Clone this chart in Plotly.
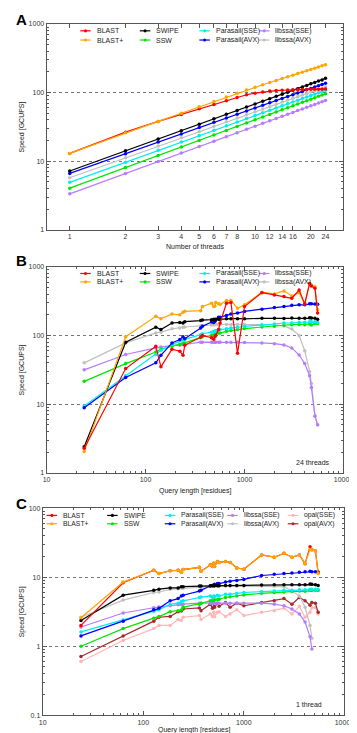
import plotly.graph_objects as go
import math

W, H = 357, 733

# ---------------- DATA ----------------
threads = list(range(1, 25))
thread_ticks = [1, 2, 3, 4, 5, 6, 7, 8, 10, 12, 14, 16, 20, 24]

a_blast = [13, 26.5, 38, 48, 58, 67, 76, 85, 93, 98, 102, 105, 107, 108, 109, 110, 110, 111, 111, 112, 112, 112, 112, 113]
a_blastp = [13, 26, 38, 50, 62, 74, 86, 98, 109, 119, 130, 140, 150, 160, 170, 179, 189, 198, 207, 217, 226, 236, 245, 255]
a_swipe = [7.2, 14.2, 21.1, 27.9, 34.7, 41.5, 48.2, 54.9, 61.6, 68.3, 74.9, 81.5, 88.1, 94.7, 101, 108, 114, 121, 127, 134, 140, 147, 153, 161]
a_ssw = [4.05, 8.1, 12.1, 16.1, 20.1, 24.1, 28.1, 32.1, 36.1, 40.1, 44, 48, 52, 56, 60, 64, 68, 72, 76, 80, 84, 88, 92, 96]
a_par_sse = [4.93, 9.7, 14.4, 19.0, 23.6, 28.2, 32.8, 37.3, 41.8, 46.3, 50.8, 55.2, 59.7, 64.1, 68.5, 72.9, 77.3, 81.7, 86.0, 90.4, 94.7, 99.0, 103, 108]
a_par_avx = [6.65, 12.9, 19.0, 25.0, 30.9, 36.8, 42.6, 48.4, 54.1, 59.8, 65.4, 71.0, 76.6, 82.2, 87.7, 93.2, 98.7, 104, 110, 115, 120, 126, 131, 137]
a_lib_sse = [3.35, 6.65, 9.9, 13.2, 16.4, 19.6, 22.8, 26.0, 29.2, 32.4, 35.6, 38.8, 42.0, 45.1, 48.3, 51.4, 54.6, 57.7, 60.9, 64.0, 67.1, 70.3, 73.4, 76.5]
a_lib_avx = [5.75, 11.2, 16.6, 21.9, 27.1, 32.3, 37.5, 42.6, 47.7, 52.7, 57.8, 62.8, 67.7, 72.7, 77.6, 82.5, 87.4, 92.3, 97.1, 102, 107, 111, 116, 121]

qlen = [24, 63, 127, 143, 185, 222, 239, 249, 361, 375, 464, 488, 503, 511, 546, 567,
        657, 729, 850, 1000, 1500, 2005, 2504, 3005, 3564, 4061, 4548, 4743, 5147, 5478]

b_blast = [2.28, 33, 70, 35, 63, 59, 51.5, 72, 95, 100, 93, 88, 96, 100, 122, 152,
           296, 302, 55, 265, 421, 390, 369, 349, 460, 289, 574, 525, 486, 212]
b_blastp = [2.04, 96, 190, 176, 205, 200, 219, 225, 230, 265, 296, 265, 270, 302, 290, 285,
            323, 323, 250, 280, 427, 403, 445, 377, 421, 289, 574, 543, 515, 237]
b_swipe = [2.4, 80, 132, 122, 152, 155, 152, 159, 165, 168, 170, 172, 170, 172, 172, 173,
           175, 176, 176, 175, 178, 178, 177, 180, 178, 178, 181, 180, 178, 172]
b_ssw = [21.5, 39, 57.5, 63, 70, 74, 77, 78, 93, 96, 100, 102, 103, 106, 109, 109,
         115, 118, 122, 126, 133, 136, 141, 144, 145, 144, 147, 142, 149, 149]
b_par_sse = [9.4, 26, 53, 61, 74, 83, 86, 88, 103, 106, 112, 114, 115, 118, 120, 122,
             125, 129, 132, 136, 141, 147, 152, 152, 156, 156, 158, 159, 158, 156]
b_par_avx = [8.9, 24.5, 40, 51.5, 78, 87.5, 96, 90, 129, 136, 157, 155, 161, 170, 185, 185,
             196, 205, 212, 224, 242, 256, 265, 277, 280, 280, 289, 289, 287, 286]
b_lib_sse = [31.6, 53, 66, 68, 72, 72, 74, 74, 80, 80, 80, 80, 80, 80, 80, 80,
             80, 80, 80, 79, 78, 76, 73, 66, 52, 39, 26, 17.5, 6.7, 5.0]
b_lib_avx = [40, 78, 109, 112, 125, 129, 132, 133, 138, 140, 142, 144, 145, 145, 145, 145,
             145, 145, 145, 145, 145, 143, 138, 124, 100, 60, 30, 20, 6.8, 5.0]

c_blast = [2.0, 8.3, 12.6, 11.3, 12.4, 12.6, 11.8, 12.9, 13.9, 12.2, 15.1, 14.3, 16, 14.3, 16.9, 16.4,
           16.9, 16.4, 13.6, 13.1, 21, 19.5, 22.2, 19.5, 21, 15.7, 27.6, 25, 24, 11.5]
c_blastp = [2.58, 8.5, 12.6, 11.3, 12.4, 12.6, 11.8, 12.9, 13.9, 12.2, 15.1, 14.3, 16, 14.3, 16.9, 16.4,
            16.9, 16.4, 13.6, 13.1, 21, 19.5, 22.2, 19.5, 21, 15.7, 25.3, 25, 24, 11.3]
c_swipe = [2.36, 5.5, 6.45, 6.7, 7.0, 7.0, 7.3, 7.3, 7.45, 7.45, 7.5, 7.5, 7.5, 7.55, 7.55, 7.55,
           7.6, 7.6, 7.6, 7.6, 7.7, 7.75, 7.75, 7.75, 7.75, 7.75, 7.95, 7.9, 7.8, 7.6]
c_ssw = [1.0, 1.8, 2.55, 2.69, 3.17, 3.28, 3.35, 3.66, 4.07, 4.2, 4.55, 4.55, 4.6, 4.7, 4.75, 4.8,
         5.08, 5.2, 5.36, 5.54, 5.85, 6.0, 6.1, 6.25, 6.3, 6.25, 6.45, 6.4, 6.45, 6.4]
c_par_sse = [1.61, 2.39, 3.2, 3.39, 4.04, 4.2, 4.46, 4.55, 5.08, 5.15, 5.36, 5.1, 5.36, 5.25, 5.48, 5.36,
             5.66, 5.66, 5.85, 6.0, 6.18, 6.3, 6.45, 6.5, 6.6, 6.6, 6.7, 6.7, 6.7, 6.65]
c_par_avx = [1.41, 2.31, 3.39, 3.54, 4.55, 4.9, 5.36, 5.48, 6.3, 6.5, 7.45, 7.6, 7.8, 7.9, 8.1, 8.1,
             8.5, 8.77, 9.0, 9.3, 10.6, 11.0, 11.3, 11.5, 11.8, 12.0, 12.2, 12.0, 12.0, 11.9]
c_lib_sse = [1.9, 3.03, 3.61, 3.7, 3.86, 4.0, 4.04, 4.07, 4.2, 4.2, 4.2, 4.2, 4.2, 4.2, 4.2, 4.2,
             4.2, 4.2, 4.2, 4.2, 4.2, 4.07, 3.86, 3.46, 2.94, 2.24, 1.37, 0.91, None, None]
c_lib_avx = [2.63, 4.66, 6.0, 6.1, 6.67, 6.8, 7.0, 7.0, 7.3, 7.35, 7.4, 7.4, 7.45, 7.45, 7.45, 7.45,
             7.45, 7.45, 7.45, 7.45, 7.45, 7.45, 7.3, 6.3, 5.36, 3.66, 2.0, 1.3, None, None]
c_opal_sse = [0.6, 1.21, 1.8, 2.0, 2.0, 2.44, 2.36, 2.63, 2.78, 2.44, 2.94, 2.7, 3.1, 2.68, 3.1, 3.15,
              2.7, 2.94, 3.39, 2.78, 3.1, 3.28, 3.54, 2.94, 3.77, 2.63, 3.1, 3.6, 3.65, 2.94]
c_opal_avx = [0.71, 1.41, 2.31, 2.63, 2.7, 3.17, 3.25, 3.46, 3.58, 3.28, 4.07, 3.54, 4.2, 3.66, 4.2, 3.8,
              4.3, 3.66, 4.2, 3.86, 4.3, 4.55, 4.9, 4.07, 5.08, 4.55, 3.94, 4.3, 4.2, 3.1]

# ---------------- STYLE ----------------
COL = {
    "BLAST": "#ff0000", "BLAST+": "#ffa500", "SWIPE": "#000000", "SSW": "#00e600",
    "Parasail(SSE)": "#00eeee", "Parasail(AVX)": "#0000ff", "libssa(SSE)": "#b57cff",
    "libssa(AVX)": "#c0c0c0", "opal(SSE)": "#ffb6b6", "opal(AVX)": "#a52a2a",
}
FONT = "Liberation Sans, Arial, sans-serif"

fig = go.Figure()

# plot areas in pixels: (left, right, top, bottom)
dom = {
    "A": (36, 345, 12, 220),
    "B": (36, 345, 257.3, 465.3),
    "C": (32, 346, 501, 710),
}
def px(x):
    return x / W
def py(y):
    return 1 - y / H

axes = {"A": ("x", "y", ""), "B": ("x2", "y2", "2"), "C": ("x3", "y3", "3")}

def add(panel, xs, ys, name):
    xa, ya, _ = axes[panel]
    fig.add_trace(go.Scatter(
        x=xs, y=ys, mode="lines+markers", name=name, showlegend=False,
        line=dict(color=COL[name], width=1.2),
        marker=dict(color=COL[name], size=3.5, symbol="circle"),
        xaxis=xa, yaxis=ya, connectgaps=False))

orderA = [("libssa(AVX)", a_lib_avx), ("libssa(SSE)", a_lib_sse), ("SSW", a_ssw),
          ("Parasail(SSE)", a_par_sse), ("Parasail(AVX)", a_par_avx), ("SWIPE", a_swipe),
          ("BLAST", a_blast), ("BLAST+", a_blastp)]
for n, v in orderA:
    add("A", threads, v, n)

orderB = [("libssa(AVX)", b_lib_avx), ("libssa(SSE)", b_lib_sse), ("SSW", b_ssw),
          ("Parasail(SSE)", b_par_sse), ("Parasail(AVX)", b_par_avx), ("SWIPE", b_swipe),
          ("BLAST+", b_blastp), ("BLAST", b_blast)]
for n, v in orderB:
    add("B", qlen, v, n)

orderC = [("opal(SSE)", c_opal_sse), ("opal(AVX)", c_opal_avx), ("libssa(AVX)", c_lib_avx),
          ("libssa(SSE)", c_lib_sse), ("SSW", c_ssw), ("Parasail(SSE)", c_par_sse),
          ("Parasail(AVX)", c_par_avx), ("SWIPE", c_swipe), ("BLAST", c_blast), ("BLAST+", c_blastp)]
for n, v in orderC:
    add("C", qlen, v, n)

tickfont = dict(family=FONT, size=7, color="#333333")
common = dict(showline=True, linecolor="#555555", linewidth=1, mirror="ticks",
              ticks="inside", tickcolor="#555555", ticklen=4, tickwidth=0.8,
              tickfont=tickfont, zeroline=False)

minor_y = [m * 10 ** e for e in range(-1, 3) for m in range(2, 10)]
minor_x = [m * 10 ** e for e in range(1, 4) for m in range(2, 10)]

lay = {}
for p, (l, r, t, b) in dom.items():
    xa, ya, s = axes[p]
    lay["xaxis" + s] = dict(domain=[px(l), px(r)], anchor=ya, type="log", showgrid=False, **common)
    lay["yaxis" + s] = dict(domain=[py(b), py(t)], anchor=xa, type="log",
                            showgrid=True, gridcolor="#777777", griddash="dot", gridwidth=0.8,
                            minor=dict(tickvals=minor_y, ticks="inside", ticklen=2,
                                       tickcolor="#555555", showgrid=False),
                            **common)

lay["xaxis"].update(range=[math.log10(0.75), math.log10(30)], tickvals=thread_ticks,
                    ticktext=[str(t) for t in thread_ticks])
lay["yaxis"].update(range=[0, 3], tickvals=[1, 10, 100, 1000], ticktext=["1", "10", "100", "1000"])
lay["xaxis2"].update(range=[1, 4], tickvals=[10, 100, 1000, 10000],
                     ticktext=["10", "100", "1000", "10000"],
                     minor=dict(tickvals=minor_x, ticks="inside", ticklen=2, tickcolor="#555555", showgrid=False))
lay["yaxis2"].update(range=[0, 3], tickvals=[1, 10, 100, 1000], ticktext=["1", "10", "100", "1000"])
lay["xaxis3"].update(range=[1, 4], tickvals=[10, 100, 1000, 10000],
                     ticktext=["10", "100", "1000", "10000"],
                     minor=dict(tickvals=minor_x, ticks="inside", ticklen=2, tickcolor="#555555", showgrid=False))
lay["yaxis3"].update(range=[-1, 2], tickvals=[0.1, 1, 10, 100], ticktext=["0.1", "1", "10", "100"])

annotations = []
shapes = []

def text(x, y, s, size=7, xanchor="left", angle=0, bold=False, color="#222222"):
    annotations.append(dict(x=px(x), y=py(y), xref="paper", yref="paper", text=("<b>%s</b>" % s) if bold else s,
                            showarrow=False, xanchor=xanchor, yanchor="middle", textangle=angle,
                            font=dict(family=FONT, size=size, color=color)))

# panel letters
text(2, 8, "A", size=15, bold=True, color="#000000")
text(2, 251, "B", size=15, bold=True, color="#000000")
text(2, 496, "C", size=15, bold=True, color="#000000")

# axis titles
for p, (l, r, t, b) in dom.items():
    text(10, (t + b) / 2, "Speed [GCUPS]", size=7, xanchor="center", angle=-90)
text((36 + 345) / 2, 237, "Number of threads", size=7, xanchor="center")
text((36 + 345) / 2, 484, "Query length [residues]", size=7, xanchor="center")
text((32 + 346) / 2, 725, "Query length [residues]", size=7, xanchor="center")
text(333, 455, "24 threads", size=7, xanchor="right")
text(325, 699, "1 thread", size=7, xanchor="right")

# manual legends (column x of line start, row y)
def legend(cols, rows_y, linelen=11, gap=4, size=7):
    for x0, names in cols:
        for yy, n in zip(rows_y, names):
            c = COL[n]
            shapes.append(dict(type="line", xref="paper", yref="paper", x0=px(x0), x1=px(x0 + linelen),
                               y0=py(yy), y1=py(yy), line=dict(color=c, width=1.2)))
            cx = x0 + linelen / 2
            shapes.append(dict(type="circle", xref="paper", yref="paper", x0=px(cx - 1.6), x1=px(cx + 1.6),
                               y0=py(yy + 1.6), y1=py(yy - 1.6), fillcolor=c, line=dict(color=c, width=0)))
            text(x0 + linelen + gap, yy, n, size=size)

legAB_cols = [(71, ["BLAST", "BLAST+"]), (133, ["SWIPE", "SSW"]),
              (195, ["Parasail(SSE)", "Parasail(AVX)"]), (257, ["libssa(SSE)", "libssa(AVX)"])]
legend(legAB_cols, [19, 28.3])
legend(legAB_cols, [264, 272.5])
legC_cols = [(36, ["BLAST", "BLAST+"]), (99, ["SWIPE", "SSW"]), (159, ["Parasail(SSE)", "Parasail(AVX)"]),
             (224, ["libssa(SSE)", "libssa(AVX)"]), (287, ["opal(SSE)", "opal(AVX)"])]
legend(legC_cols, [508.3, 516.7], linelen=11, gap=4, size=6.8)

fig.update_layout(width=W, height=H, margin=dict(l=0, r=0, t=0, b=0),
                  paper_bgcolor="white", plot_bgcolor="white",
                  showlegend=False, annotations=annotations, shapes=shapes, **lay)

fig.write_html("out.html")
